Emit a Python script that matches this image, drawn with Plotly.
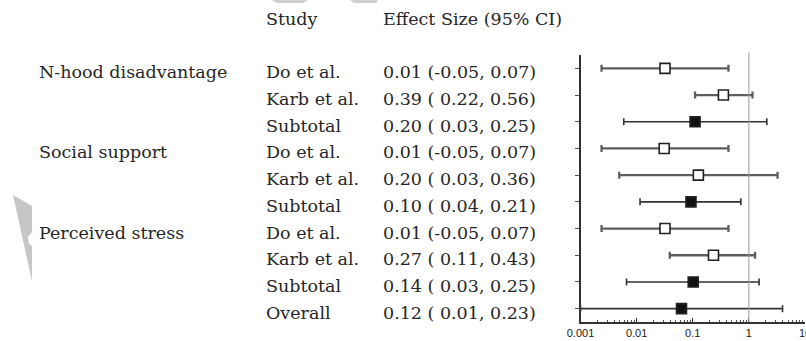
import plotly.graph_objects as go

# ---- data ----
groups = ["N-hood disadvantage", "", "", "Social support", "", "",
          "Perceived stress", "", "", ""]
studies = ["Do et al.", "Karb et al.", "Subtotal",
           "Do et al.", "Karb et al.", "Subtotal",
           "Do et al.", "Karb et al.", "Subtotal", "Overall"]
ci_text = ["0.01 (-0.05, 0.07)", "0.39 ( 0.22, 0.56)", "0.20 ( 0.03, 0.25)",
           "0.01 (-0.05, 0.07)", "0.20 ( 0.03, 0.36)", "0.10 ( 0.04, 0.21)",
           "0.01 (-0.05, 0.07)", "0.27 ( 0.11, 0.43)", "0.14 ( 0.03, 0.25)",
           "0.12 ( 0.01, 0.23)"]
pooled = [False, False, True, False, False, True, False, False, True, True]
est = [0.032, 0.352, 0.11, 0.031, 0.126, 0.093, 0.032, 0.234, 0.102, 0.063]
lo = [0.00237, 0.11, 0.0059, 0.00237, 0.0049, 0.0115, 0.00237, 0.039, 0.0066, 0.001]
hi = [0.433, 1.16, 2.09, 0.433, 3.24, 0.72, 0.433, 1.29, 1.52, 3.98]
tick_vals = [0.001, 0.01, 0.1, 1, 10]
tick_text = ["0.001", "0.01", "0.1", "1", "10"]
header_study = "Study"
header_es = "Effect Size (95% CI)"

rows = list(range(1, len(studies) + 1))

W, H = 806, 341
def px(x):
    return x / W

fig = go.Figure()

def add_series(mask, fill, name, ecol, eth):
    xs = [e for e, m in zip(est, mask) if m]
    ys = [r for r, m in zip(rows, mask) if m]
    plus = [h - e for h, e, m in zip(hi, est, mask) if m]
    minus = [e - l for l, e, m in zip(lo, est, mask) if m]
    fig.add_trace(go.Scatter(
        x=xs, y=ys, mode="markers", name=name, showlegend=False,
        marker=dict(symbol="square", size=10, color=fill,
                    line=dict(color="#222222", width=1.6)),
        error_x=dict(type="data", symmetric=False, array=plus, arrayminus=minus,
                     color=ecol, thickness=eth, width=3.5),
    ))

add_series([not p for p in pooled], "white", "study", "#5e5e5e", 2.3)
add_series(pooled, "#111111", "pooled", "#333333", 1.6)

# reference line at 1
fig.add_shape(type="line", xref="x", yref="y domain", x0=1, x1=1, y0=0, y1=1.01,
              line=dict(color="#9a9a9a", width=1))

serif = "DejaVu Serif"
tcol = "#262626"
fs = 17.5

def ann(x, y, text, yref="y", yshift=0):
    fig.add_annotation(x=px(x), xref="paper", y=y, yref=yref, text=text,
                       showarrow=False, xanchor="left", yanchor="middle",
                       yshift=yshift, font=dict(family=serif, size=fs, color=tcol))

for r, g, s, c in zip(rows, groups, studies, ci_text):
    if g:
        ann(37, r, g, yshift=-4)
    ann(264, r, s, yshift=-4)
    ann(381, r, c, yshift=-4)

ann(264, 1 - 19 / H, header_study, yref="paper")
ann(381, 1 - 19 / H, header_es, yref="paper")

# faint watermark fragments
def pth(pts):
    return "M " + " L ".join(f"{px(x):.5f},{1 - y / H:.5f}" for x, y in pts) + " Z"

fig.add_shape(type="path", xref="paper", yref="paper", line=dict(width=0),
              fillcolor="#c6c6c6", layer="below",
              path=pth([(13, 195), (32, 206), (32, 232), (28, 237), (29, 244),
                        (32, 246), (32, 281)]))
fig.add_shape(type="path", xref="paper", yref="paper", line=dict(width=0),
              fillcolor="#cfcfcf", layer="below",
              path=pth([(272, 0), (308, 0), (303, 3), (277, 3)]))
fig.add_shape(type="path", xref="paper", yref="paper", line=dict(width=0),
              fillcolor="#cfcfcf", layer="below",
              path=pth([(350, 0), (378, 0), (376, 3), (354, 3)]))

fig.update_layout(
    width=W, height=H, margin=dict(l=0, r=0, t=0, b=0),
    plot_bgcolor="white", paper_bgcolor="white",
    xaxis=dict(type="log", range=[-3, 1], domain=[px(580.5), px(805)],
               tickvals=tick_vals, ticktext=tick_text, ticks="inside", ticklen=4,
               tickcolor="#333333", showgrid=False, zeroline=False,
               showline=True, linecolor="#333333", linewidth=1.5,
               tickfont=dict(family="Liberation Sans", size=11, color="#222222"),
               ticklabeloverflow="allow",
               minor=dict(dtick="D1", ticks="inside", ticklen=2.5, tickcolor="#555555",
                          showgrid=False),
               automargin=False, fixedrange=True),
    yaxis=dict(range=[10.5, 0.5], domain=[(H - 322) / H, (H - 55) / H],
               tickvals=rows, showticklabels=False, ticks="outside", ticklen=4,
               tickcolor="#555555", showgrid=False, zeroline=False,
               showline=True, linecolor="#333333", linewidth=1.5,
               automargin=False, fixedrange=True),
)

fig.write_html(
    "out.html",
    config={"displayModeBar": False, "staticPlot": True},
    post_script="document.body.style.margin='0px';document.body.style.overflow='hidden';",
)
